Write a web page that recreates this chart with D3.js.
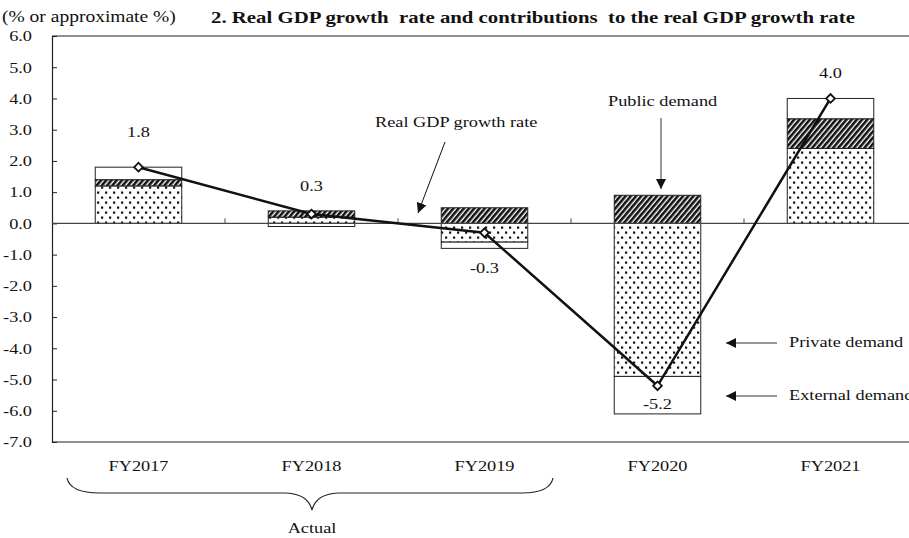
<!DOCTYPE html>
<html lang="en">
<head>
<meta charset="UTF-8"/>
<title>Real GDP growth rate and contributions</title>
<script src="https://d3js.org/d3.v7.min.js"></script>
<style>
  body { margin: 0; background: #fff; }
  text { font-family: "Liberation Serif", "Times New Roman", serif; fill: #111; }
</style>
</head>
<body>
<script>
// ---------- data ----------
var years          = ["FY2017", "FY2018", "FY2019", "FY2020", "FY2021"];
var privateDemand  = [1.2, 0.2, -0.6, -4.9, 2.4];
var publicDemand   = [0.2, 0.2, 0.5, 0.9, 0.95];
var externalDemand = [0.4, -0.1, -0.2, -1.2, 0.65];
var gdpGrowth      = [1.8, 0.3, -0.3, -5.2, 4.0];
var yTicks         = [-7, -6, -5, -4, -3, -2, -1, 0, 1, 2, 3, 4, 5, 6];

var w = 909, h = 538;
var mLeft = 52, mTop = 36, plotW = 865, plotH = 406;
var sx = 1.22; // reference text is a little stretched sideways

// plain hyphen for negatives, like the reference
var fmt = d3.formatLocale({ decimal: ".", thousands: ",", grouping: [3], currency: ["", ""], minus: "-" })
            .format(".1f");

var svg = d3.select("body").append("svg")
            .attr("width", w).attr("height", h);

// patterns
var defs = svg.append("defs");
var dots = defs.append("pattern").attr("id", "dots")
    .attr("patternUnits", "userSpaceOnUse").attr("width", 8).attr("height", 10);
dots.append("rect").attr("width", 8).attr("height", 10).attr("fill", "#fff");
dots.append("rect").attr("x", 1).attr("y", 1.5).attr("width", 2.2).attr("height", 2.2).attr("fill", "#111");
dots.append("rect").attr("x", 5).attr("y", 6.5).attr("width", 2.2).attr("height", 2.2).attr("fill", "#111");

var hatch = defs.append("pattern").attr("id", "hatch")
    .attr("patternUnits", "userSpaceOnUse").attr("width", 4).attr("height", 4)
    .attr("patternTransform", "rotate(40)");
hatch.append("rect").attr("width", 4).attr("height", 4).attr("fill", "#fff");
hatch.append("rect").attr("width", 2.6).attr("height", 4).attr("fill", "#111");

defs.append("marker").attr("id", "arrow")
    .attr("viewBox", "0 0 10 10").attr("refX", 10).attr("refY", 5)
    .attr("markerWidth", 10).attr("markerHeight", 10)
    .attr("markerUnits", "userSpaceOnUse")
    .attr("orient", "auto")
  .append("path").attr("d", "M0,0 L10,5 L0,10 Z").attr("fill", "#111");

// scales
var x = d3.scaleBand().domain(years).range([mLeft, mLeft + plotW]).paddingInner(0).paddingOuter(0);
var y = d3.scaleLinear().domain([-7, 6]).range([mTop + plotH, mTop]);
var barW = x.bandwidth() * 0.5;

// stacked contributions
var rows = years.map(function(d, i) {
  return { year: d, priv: privateDemand[i], pub: publicDemand[i], ext: externalDemand[i] };
});
var stack = d3.stack().keys(["priv", "pub", "ext"]).offset(d3.stackOffsetDiverging);
var series = stack(rows);
var fills = { priv: "url(#dots)", pub: "url(#hatch)", ext: "#fff" };

// frame
svg.append("line").attr("x1", mLeft).attr("x2", mLeft + plotW)
   .attr("y1", mTop).attr("y2", mTop).attr("stroke", "#222").attr("stroke-width", 1.2);
svg.append("line").attr("x1", mLeft).attr("x2", mLeft + plotW)
   .attr("y1", mTop + plotH).attr("y2", mTop + plotH).attr("stroke", "#222").attr("stroke-width", 1.2);

// y axis
var yAxis = svg.append("g").attr("transform", "translate(" + mLeft + ",0)")
  .call(d3.axisLeft(y).tickValues(yTicks).tickSize(-5).tickPadding(20).tickFormat(fmt));
yAxis.select(".domain").attr("stroke", "#222").attr("stroke-width", 1.2);
yAxis.selectAll(".tick line").attr("stroke", "#222");
yAxis.selectAll(".tick text")
  .attr("x", -20 / sx).attr("transform", "scale(" + sx + ",1)")
  .style("font-family", "Liberation Serif").style("font-size", "15px").attr("fill", "#111");

// x axis labels
var xAxis = svg.append("g").attr("transform", "translate(0," + (mTop + plotH) + ")")
  .call(d3.axisBottom(x).tickSize(0).tickPadding(18));
xAxis.select(".domain").remove();
xAxis.selectAll(".tick text")
  .attr("transform", "scale(" + sx + ",1)")
  .style("font-family", "Liberation Serif").style("font-size", "15px").attr("fill", "#111");

// bars
svg.append("g").selectAll("g").data(series).enter().append("g")
  .attr("fill", function(s) { return fills[s.key]; })
  .selectAll("rect").data(function(s) { return s; }).enter().append("rect")
  .attr("x", function(d) { return x(d.data.year) + (x.bandwidth() - barW) / 2; })
  .attr("y", function(d) { return y(d[1]); })
  .attr("width", barW)
  .attr("height", function(d) { return Math.max(0, y(d[0]) - y(d[1])); })
  .attr("stroke", "#222").attr("stroke-width", 1);

// zero line + small band ticks
svg.append("line").attr("x1", mLeft).attr("x2", mLeft + plotW)
   .attr("y1", y(0)).attr("y2", y(0)).attr("stroke", "#444").attr("stroke-width", 1.2);
svg.append("g").selectAll("line").data(years.slice(1)).enter().append("line")
   .attr("x1", function(d) { return x(d); }).attr("x2", function(d) { return x(d); })
   .attr("y1", y(0)).attr("y2", y(0) - 5).attr("stroke", "#444");

// GDP line
var cx = function(i) { return x(years[i]) + x.bandwidth() / 2; };
var line = d3.line().x(function(d, i) { return cx(i); }).y(function(d) { return y(d); });
svg.append("path").datum(gdpGrowth).attr("d", line)
   .attr("fill", "none").attr("stroke", "#111").attr("stroke-width", 2.5);
svg.append("g").selectAll("path").data(gdpGrowth).enter().append("path")
   .attr("d", d3.symbol().type(d3.symbolSquare).size(38))
   .attr("transform", function(d, i) { return "translate(" + cx(i) + "," + y(d) + ") rotate(45)"; })
   .attr("fill", "#fff").attr("stroke", "#111").attr("stroke-width", 1.8);

// value labels
var labelDy = [-30, -23, 40, 23, -20];
svg.append("g").selectAll("text").data(gdpGrowth).enter().append("text")
   .attr("transform", function(d, i) {
     return "translate(" + cx(i) + "," + (y(d) + labelDy[i]) + ") scale(" + sx + ",1)";
   })
   .attr("text-anchor", "middle").style("font-size", "15px")
   .text(function(d) { return fmt(d); });

// helper for free text
function label(t, px, py, opts) {
  opts = opts || {};
  var s = opts.sx || sx;
  return svg.append("text")
    .attr("transform", "translate(" + px + "," + py + ") scale(" + s + ",1)")
    .attr("text-anchor", opts.anchor || "start")
    .style("font-size", (opts.size || 15) + "px")
    .style("font-weight", opts.bold ? "bold" : "normal")
    .style("white-space", "pre")
    .text(t);
}

label("(% or approximate %)", 2, 22, { size: 16 });
label("2. Real GDP growth  rate and contributions  to the real GDP growth rate", 533, 23,
      { anchor: "middle", size: 16, bold: true, sx: 1.3 });

// annotations
label("Real GDP growth rate", 375, 127, { size: 15 });
svg.append("line").attr("x1", 445).attr("y1", 142).attr("x2", 418).attr("y2", 213)
   .attr("stroke", "#111").attr("marker-end", "url(#arrow)");

label("Public demand", 608, 106, { size: 15 });
svg.append("line").attr("x1", 661).attr("y1", 118).attr("x2", 661).attr("y2", 189)
   .attr("stroke", "#333").attr("marker-end", "url(#arrow)");

label("Private demand", 789, 347, { size: 15 });
svg.append("line").attr("x1", 777).attr("y1", 343).attr("x2", 726).attr("y2", 343)
   .attr("stroke", "#333").attr("marker-end", "url(#arrow)");

label("External demand", 789, 400, { size: 15 });
svg.append("line").attr("x1", 777).attr("y1", 396).attr("x2", 726).attr("y2", 396)
   .attr("stroke", "#333").attr("marker-end", "url(#arrow)");

// brace under actual years
svg.append("path")
   .attr("d", "M67,478 Q70,493 100,493 L286,493 Q308,494 312,510 Q316,494 338,493 L522,493 Q550,493 553,478")
   .attr("fill", "none").attr("stroke", "#222").attr("stroke-width", 1.2);
label("Actual", 312, 533, { anchor: "middle", size: 15 });
</script>
</body>
</html>
